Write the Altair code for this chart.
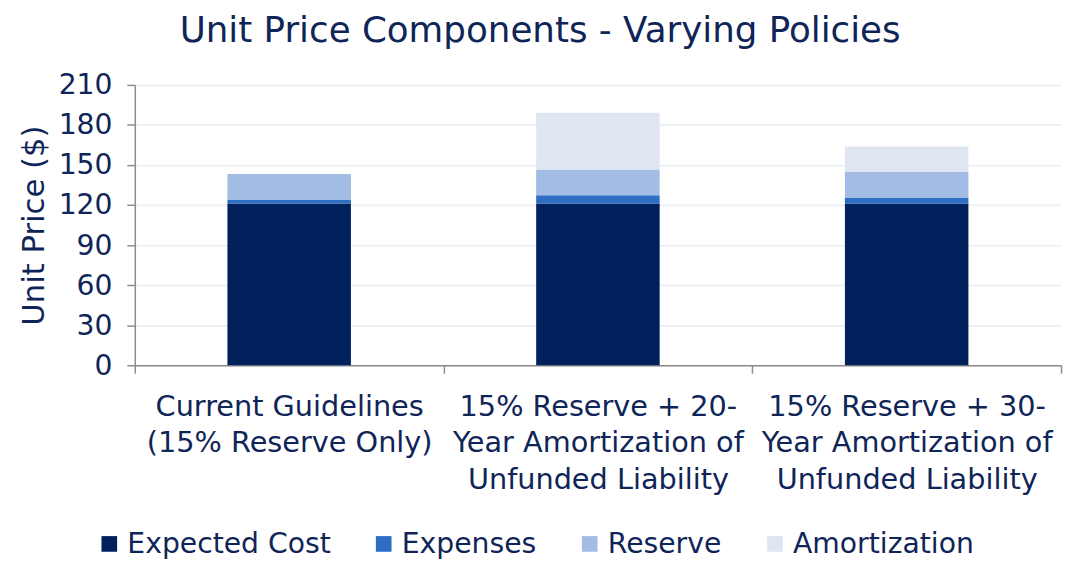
import altair as alt
import pandas as pd

categories = [
    "Current Guidelines|(15% Reserve Only)",
    "15% Reserve + 20-|Year Amortization of|Unfunded Liability",
    "15% Reserve + 30-|Year Amortization of|Unfunded Liability",
]
components = ["Expected Cost", "Expenses", "Reserve", "Amortization"]
expected_cost = [121.2, 121.2, 121.2]
expenses = [3.0, 6.2, 4.4]
reserve = [19.0, 19.3, 19.3]
amortization = [0.0, 42.5, 18.9]
colors = ["#00215B", "#2D6EC3", "#A3BCE4", "#DFE5F1"]
y_ticks = [0, 30, 60, 90, 120, 150, 180, 210]

rows = []
for i, c in enumerate(categories):
    for j, (name, vals) in enumerate(zip(components, [expected_cost, expenses, reserve, amortization])):
        rows.append({"Policy": c, "Component": name, "Value": vals[i], "order": j})
df = pd.DataFrame(rows)

FONT = "DejaVu Sans"
NAVY = "#0F2557"
AXIS_GREY = "#8C8C8C"

y_enc = alt.Y("Value:Q", stack="zero", title="Unit Price ($)",
              scale=alt.Scale(domain=[0, 210], nice=False),
              axis=alt.Axis(values=y_ticks, labelFont=FONT, labelFontSize=28.5,
                            labelColor=NAVY, labelPadding=15,
                            titleFont=FONT, titleFontSize=31, titleFontWeight="normal",
                            titleColor=NAVY, titlePadding=8,
                            tickColor=AXIS_GREY, tickSize=8, tickWidth=1.5,
                            domainColor=AXIS_GREY, domainWidth=1.5,
                            gridColor="#EDF0F6", gridWidth=2))

base = alt.Chart(df)

# invisible layer that carries the category axis (ticks between categories)
axis_layer = base.mark_bar(opacity=0).encode(
    x=alt.X("Policy:N", sort=categories, title=None,
            scale=alt.Scale(paddingInner=0, paddingOuter=0),
            axis=alt.Axis(labelExpr="split(datum.label, '|')", labelAngle=0,
                          labelFont=FONT, labelFontSize=29,
                          labelColor=NAVY, labelLineHeight=36.5, labelPadding=20,
                          labelLimit=0, tickBand="extent",
                          tickColor=AXIS_GREY, tickSize=8, tickWidth=1.5,
                          domainColor=AXIS_GREY, domainWidth=1.5, grid=False)),
    y=y_enc,
)

bars = base.mark_bar().encode(
    x=alt.X("Policy:N", sort=categories, title=None,
            scale=alt.Scale(paddingInner=0.6, paddingOuter=0.3), axis=None),
    y=y_enc,
    color=alt.Color("Component:N", sort=components,
                    scale=alt.Scale(domain=components, range=colors),
                    legend=alt.Legend(orient="none", legendX=-40, legendY=449,
                                      direction="horizontal", title=None,
                                      symbolType="square",
                                      symbolSize=250, symbolStrokeWidth=0,
                                      labelFont=FONT, labelFontSize=28.5, labelColor=NAVY,
                                      labelLimit=0, columnPadding=39, labelOffset=4)),
    order=alt.Order("order:Q", sort="ascending"),
)

chart = alt.layer(axis_layer, bars).resolve_scale(x="independent").properties(
    width=935, height=283,
    padding={"left": 10, "top": 3, "right": 2, "bottom": 2},
    title=alt.TitleParams("Unit Price Components - Varying Policies", font=FONT,
                          fontSize=36, fontWeight="normal", color=NAVY,
                          anchor="middle", frame="bounds", offset=21),
).configure_view(stroke=None)

chart.save("out.html", embed_options={"renderer": "svg", "actions": False})
